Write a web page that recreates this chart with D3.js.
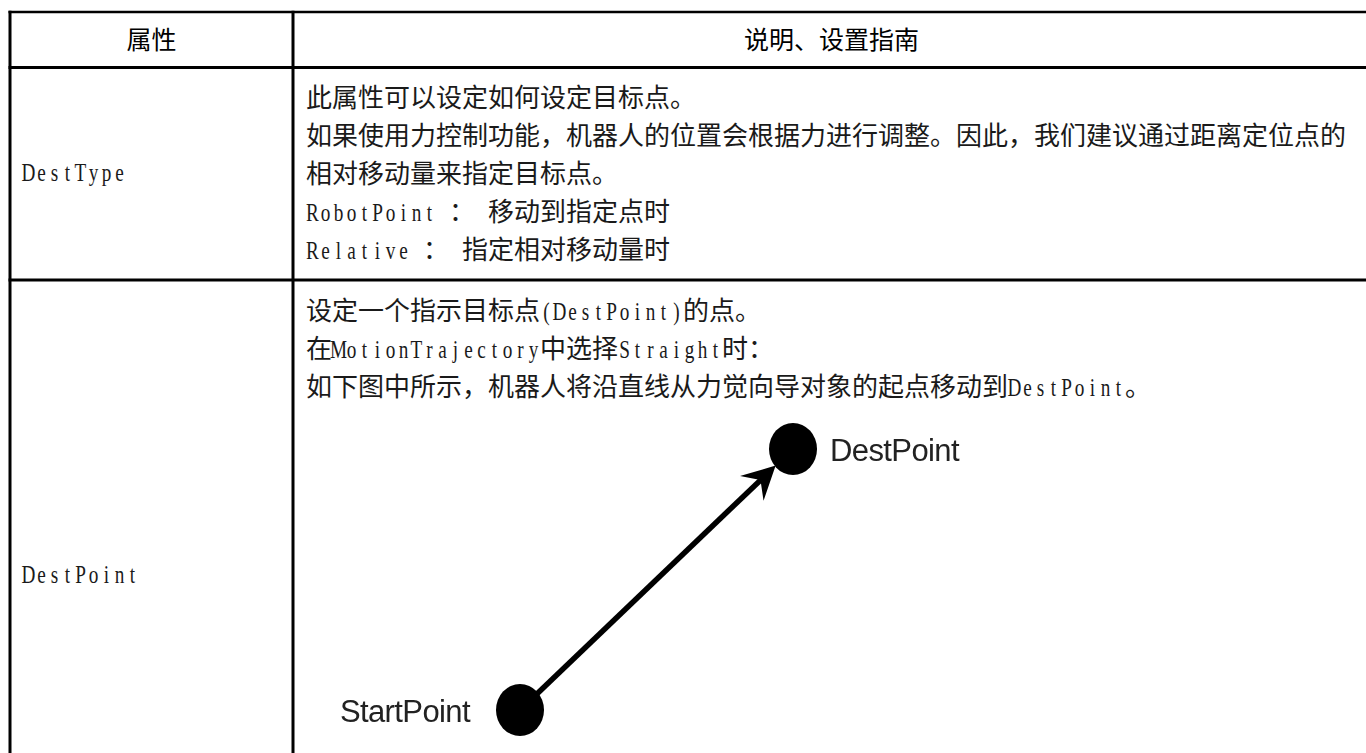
<!DOCTYPE html>
<html><head><meta charset="utf-8">
<script src="https://cdn.jsdelivr.net/npm/d3@7"></script>
<style>html,body{margin:0;padding:0;background:#fff;overflow:hidden}</style>
</head><body>
<svg id="chart" width="1366" height="753"></svg>
<script>
// ---- data ----
const headerLabels = ["属性", "说明、设置指南"];
const attributeNames = ["DestType", "DestPoint"];
const destTypeLines = [
  "此属性可以设定如何设定目标点。",
  "如果使用力控制功能，机器人的位置会根据力进行调整。因此，我们建议通过距离定位点的",
  "相对移动量来指定目标点。",
  "RobotPoint ： 移动到指定点时",
  "Relative ： 指定相对移动量时"
];
const destPointLines = [
  "设定一个指示目标点(DestPoint)的点。",
  "在MotionTrajectory中选择Straight时：",
  "如下图中所示，机器人将沿直线从力觉向导对象的起点移动到DestPoint。"
];
const diagramNodes = ["StartPoint", "DestPoint"];
const diagramX = [0, 1];
const diagramY = [0, 1];

// ---- layout ----
const svg = d3.select("#chart");
const colX = [10, 293, 1370];
const rowY = [12, 67.5, 280, 900];
const EM = 26, HALF = 13, SX = 0.74;

svg.append("rect").attr("width",1366).attr("height",753).attr("fill","#fff");

const grid = svg.append("g").attr("stroke","#000");
rowY.slice(0,3).forEach((y,i)=>{
  grid.append("line").attr("x1",colX[0]-1.5).attr("x2",colX[2]).attr("y1",y).attr("y2",y)
    .attr("stroke-width", i===0?2.6:3.2);
});
colX.slice(0,2).forEach(x=>{
  grid.append("line").attr("x1",x).attr("x2",x).attr("y1",rowY[0]-1.3).attr("y2",rowY[3])
    .attr("stroke-width",3);
});

// header
svg.append("g").selectAll("text").data(headerLabels).join("text")
  .attr("x",(d,i)=>(colX[i]+colX[i+1])/2)
  .attr("y",(rowY[0]+rowY[1])/2+9)
  .attr("text-anchor","middle")
  .attr("font-family","'Noto Sans CJK SC','Noto Sans CJK JP',sans-serif")
  .attr("font-size",25).attr("fill","#000")
  .text(d=>d);

// mixed text line: CJK full width cells, ASCII half width cells (monospaced like SimSun)
function drawLine(g, str, x0, baseline){
  const lg = g.append("g");
  const runs = str.match(/[\x20-\x7E]+|[^\x20-\x7E]+/g) || [];
  let x = x0;
  runs.forEach(run=>{
    const latin = /^[\x20-\x7E]/.test(run);
    const w = latin ? HALF : EM;
    const arr = [...run];
    const chars = [], xs = [];
    arr.forEach((ch,i)=>{
      if(ch !== " "){ chars.push(ch); xs.push(i*w + w/2); }
    });
    if(chars.length){
      if(latin){
        lg.append("text")
          .attr("transform",`translate(${x},${baseline}) scale(${SX},1)`)
          .attr("x", xs.map(v=>(v/SX).toFixed(2)).join(" ")).attr("y",0)
          .attr("text-anchor","middle")
          .attr("font-family","'Liberation Serif','DejaVu Serif',serif")
          .attr("font-size",26).attr("fill","#1a1a1a")
          .text(chars.join(""));
      } else {
        lg.append("text")
          .attr("x", xs.map(v=>(v+x).toFixed(1)).join(" ")).attr("y",baseline)
          .attr("text-anchor","middle")
          .attr("font-family","'Noto Sans CJK SC','Noto Sans CJK JP',sans-serif")
          .attr("font-size",EM).attr("fill","#1a1a1a")
          .text(chars.join(""));
      }
    }
    x += arr.length * w;
  });
}

const body = svg.append("g");
const lineGap = 38;
destTypeLines.forEach((s,i)=>drawLine(body, s, 306, 107 + i*lineGap));
destPointLines.forEach((s,i)=>drawLine(body, s, 306, 320 + i*lineGap));

// attribute names
drawLine(body, attributeNames[0], 22, 181);
drawLine(body, attributeNames[1], 22, 583);

// ---- diagram ----
const xS = d3.scaleLinear().domain([0,1]).range([520, 793]);
const yS = d3.scaleLinear().domain([0,1]).range([710, 449]);
const defs = svg.append("defs");
defs.append("filter").attr("id","soft").append("feGaussianBlur").attr("stdDeviation",0.6);
const dg = svg.append("g").attr("filter","url(#soft)");
const nodes = diagramNodes.map((n,i)=>({name:n, x:xS(diagramX[i]), y:yS(diagramY[i])}));
const rx = 24, ry = 26;
dg.selectAll("ellipse").data(nodes).join("ellipse")
  .attr("cx",d=>d.x).attr("cy",d=>d.y).attr("rx",rx).attr("ry",ry).attr("fill","#000");

const p0 = nodes[0], p1 = nodes[1];
const dx = p1.x-p0.x, dy = p1.y-p0.y, L = Math.hypot(dx,dy);
const ux = dx/L, uy = dy/L;
const rEdge = 24;
const tip = {x:p1.x - ux*rEdge, y:p1.y - uy*rEdge};
const notch = 20;
dg.append("line")
  .attr("x1",p0.x + ux*rEdge).attr("y1",p0.y + uy*rEdge)
  .attr("x2",tip.x - ux*notch).attr("y2",tip.y - uy*notch)
  .attr("stroke","#000").attr("stroke-width",5.5);
const ang = Math.atan2(dy,dx)*180/Math.PI;
dg.append("path")
  .attr("d","M0,0 L-33,-17 L-21,0 L-33,17 Z")
  .attr("transform",`translate(${tip.x},${tip.y}) rotate(${ang})`)
  .attr("fill","#000");

dg.selectAll("text.lab").data(nodes).join("text").attr("class","lab")
  .attr("x",(d,i)=> i===0 ? d.x - rx*2 - 2 : d.x + rx + 13)
  .attr("y",d=>d.y + 12)
  .attr("text-anchor",(d,i)=> i===0 ? "end" : "start")
  .attr("font-family","'Liberation Sans',Arial,sans-serif")
  .attr("font-size",31).attr("fill","#222").attr("letter-spacing",-0.6)
  .text(d=>d.name);
</script>
</body></html>
